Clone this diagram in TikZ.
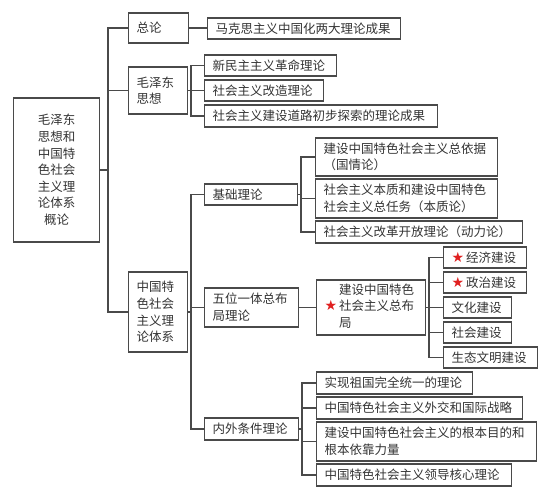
\documentclass[tikz,border=0pt]{standalone}
\usepackage{fontspec}
\setmainfont{Noto Sans CJK SC}
\newfontfamily\symfont{DejaVu Sans}
\definecolor{linec}{HTML}{4A4A4A}
\definecolor{textc}{HTML}{333333}
\definecolor{starc}{HTML}{E02020}
\newcommand{\redstar}{{\symfont\fontsize{14}{14}\selectfont\textcolor{starc}{★}}}
\tikzset{
  box/.style={draw=linec, line width=1.2pt, anchor=west, align=left,
    inner xsep=8pt, inner ysep=0pt, text=textc,
    font=\fontsize{12.5}{16.6}\selectfont},
  conn/.style={draw=linec, line width=1.1pt}
}
\newcommand\bx[7][]{%
  \pgfmathsetmacro\bw{#4-#3}%
  \pgfmathsetmacro\bh{#6-#5}%
  \pgfmathsetmacro\bt{#4-#3-16}%
  \pgfmathsetmacro\by{(#5+#6)/2}%
  \node[box,minimum width=\bw pt,minimum height=\bh pt,text width=\bt pt,#1] (#2) at (#3,\by) {#7};}
\begin{document}
\begin{tikzpicture}[x=1pt,y=-1pt]
\useasboundingbox (0,0) rectangle (550,500);
% level 0
\bx[align=center]{root}{13}{99}{98}{242}{毛泽东\\思想和\\中国特\\色社会\\主义理\\论体系\\概论}
% level 1
\bx{zonglun}{128}{188}{13}{43}{总论}
\bx{mao}{128}{187}{67}{114}{毛泽东\\思想}
\bx{tese}{128}{187}{272}{352}{中国特\\色社会\\主义理\\论体系}
% level 2
\bx{makesi}{207}{400}{18}{39}{马克思主义中国化两大理论成果}
\bx{xinmin}{204}{336}{55}{76}{新民主主义革命理论}
\bx{gaizao}{204}{323}{80}{101}{社会主义改造理论}
\bx{jianshe}{204}{437}{105}{127}{社会主义建设道路初步探索的理论成果}
\bx{jichu}{204}{297}{184}{205}{基础理论}
\bx{wuwei}{204}{298}{288}{327}{五位一体总布\\局理论}
\bx{neiwai}{204}{298}{418}{440}{内外条件理论}
% level 3
\bx{guoqing}{315}{497}{138}{176}{建设中国特色社会主义总依据\\（国情论）}
\bx{benzhi}{315}{497}{179}{218}{社会主义本质和建设中国特色\\社会主义总任务（本质论）}
\bx{dongli}{315}{522}{221}{243}{社会主义改革开放理论（动力论）}
\bx{zongbuju}{316}{425}{280}{335}{\redstar\,\begin{tabular}{@{}l@{}}建设中国特色\\社会主义总布\\局\end{tabular}}
\bx{tongyi}{316}{472}{372}{394}{实现祖国完全统一的理论}
\bx{waijiao}{316}{522}{397}{419}{中国特色社会主义外交和国际战略}
\bx{genben}{316}{536}{422}{461}{建设中国特色社会主义的根本目的和\\根本依靠力量}
\bx{lingdao}{316}{511}{464}{486}{中国特色社会主义领导核心理论}
% level 4
\bx{jingji}{443}{526}{247}{268}{\redstar\,经济建设}
\bx{zhengzhi}{443}{526}{272}{293}{\redstar\,政治建设}
\bx{wenhua}{443}{511}{297}{318}{文化建设}
\bx{shehui}{443}{511}{322}{343}{社会建设}
\bx{shengtai}{443}{537}{347}{368}{生态文明建设}
% buses
\coordinate (b0) at (108,0);
\coordinate (b1) at (191,0);
\coordinate (b2) at (191,0);
\coordinate (b3) at (301,0);
\coordinate (b4) at (429,0);
\coordinate (b5) at (302,0);
\draw[conn] (root.east) -- (root.east -| b0);
\foreach \c in {zonglun,mao,tese} \draw[conn] (root.east -| b0) |- (\c.west);
\draw[conn] (zonglun.east) -- (zonglun.east -| makesi.west);
\draw[conn] (mao.east) -- (mao.east -| b1);
\foreach \c in {xinmin,gaizao,jianshe} \draw[conn] (mao.east -| b1) |- (\c.west);
\draw[conn] (tese.east) -- (tese.east -| b2);
\foreach \c in {jichu,wuwei,neiwai} \draw[conn] (tese.east -| b2) |- (\c.west);
\draw[conn] (jichu.east) -- (jichu.east -| b3);
\foreach \c in {guoqing,benzhi,dongli} \draw[conn] (jichu.east -| b3) |- (\c.west);
\draw[conn] (wuwei.east) -- (wuwei.east -| zongbuju.west);
\draw[conn] (zongbuju.east) -- (zongbuju.east -| b4);
\foreach \c in {jingji,zhengzhi,wenhua,shehui,shengtai} \draw[conn] (zongbuju.east -| b4) |- (\c.west);
\draw[conn] (neiwai.east) -- (neiwai.east -| b5);
\foreach \c in {tongyi,waijiao,genben,lingdao} \draw[conn] (neiwai.east -| b5) |- (\c.west);
\end{tikzpicture}
\end{document}
